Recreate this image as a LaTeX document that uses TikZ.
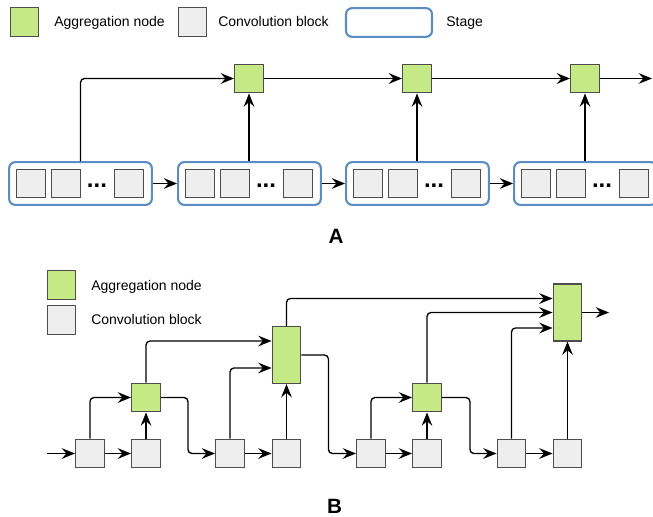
\documentclass[tikz,border=0pt]{standalone}
\usepackage{fontspec}
\setmainfont{Liberation Sans}
\usetikzlibrary{arrows.meta,calc}
\definecolor{aggfill}{HTML}{C5E985}
\definecolor{convfill}{HTML}{EEEEEE}
\definecolor{boxline}{HTML}{4D4D4D}
\definecolor{stageline}{HTML}{5B8DC3}
\begin{document}
\begin{tikzpicture}[x=0.75pt,y=-0.75pt,
  agg/.style={draw=boxline,fill=aggfill,line width=0.9pt,minimum width=21.5pt,minimum height=21.5pt,inner sep=0pt},
  aggtall/.style={agg,minimum height=42.75pt},
  conv/.style={draw=boxline,fill=convfill,line width=0.9pt,minimum width=21.5pt,minimum height=21.5pt,inner sep=0pt},
  stagebox/.style={draw=stageline,line width=1.6pt,rounded corners=4.5pt,minimum width=107pt,minimum height=32pt,inner sep=0pt},
  legtext/.style={font=\fontsize{10.5}{12}\selectfont,anchor=base west,inner sep=0pt},
  lbl/.style={font=\fontsize{15.5}{18}\selectfont\bfseries,inner sep=0pt},
  dotstext/.style={font=\fontsize{18}{20}\selectfont\bfseries,anchor=base,inner sep=0pt},
  conn/.style={line width=1pt,-{Stealth[length=10pt,width=8pt,inset=3.5pt]},rounded corners=3pt}
]
\useasboundingbox (0,0) rectangle (653,517);

% ---------- Legend A ----------
\node[agg] (lg1) at (24.5,22) {};
\node[legtext] (lt1) at (54,27) {Aggregation node};
\node[conv] (lg2) at (192.5,22) {};
\node[legtext] (lt2) at (218,27) {Convolution block};
\node[stagebox,minimum width=64.5pt,minimum height=21.5pt] (lg3) at (389,22.5) {};
\node[legtext] (lt3) at (446,27) {Stage};

% ---------- Part A: stages ----------
\foreach \i/\s in {1/9,2/178,3/346,4/514}{
  \node[stagebox] (s\i) at (\s+71.5,183.5) {};
  \node[conv] (s\i a) at (\s+22,183.5) {};
  \node[conv] (s\i b) at (\s+57,183.5) {};
  \node[conv] (s\i c) at (\s+120,183.5) {};
  \node[dotstext] (s\i d) at (\s+88,187) {...};
}
\node[agg] (g1) at (249,78.5) {};
\node[agg] (g2) at (417,78.5) {};
\node[agg] (g3) at (585,78.5) {};
\coordinate (outA) at (652,78.5);

\draw[conn] (s1.north) |- (g1.west);
\draw[conn] (s2.north -| g1.south) -- (g1.south);
\draw[conn] (s3.north -| g2.south) -- (g2.south);
\draw[conn] (s4.north -| g3.south) -- (g3.south);
\draw[conn] (g1.east) -- (g2.west);
\draw[conn] (g2.east) -- (g3.west);
\draw[conn] (g3.east) -- (outA);
\draw[conn] (s1.east) -- (s2.west);
\draw[conn] (s2.east) -- (s3.west);
\draw[conn] (s3.east) -- (s4.west);

\node[lbl] (labA) at (336,236) {A};

% ---------- Legend B ----------
\node[agg] (lb1) at (61.5,285) {};
\node[legtext] (lbt1) at (91,290) {Aggregation node};
\node[conv] (lb2) at (61.5,320) {};
\node[legtext] (lbt2) at (91,324) {Convolution block};

% ---------- Part B ----------
\node[conv] (c1) at (90,453.5) {};
\node[conv] (c2) at (146,453.5) {};
\node[conv] (c3) at (230,453.5) {};
\node[conv] (c4) at (286.5,453.5) {};
\node[conv] (c5) at (371,453.5) {};
\node[conv] (c6) at (427,453.5) {};
\node[conv] (c7) at (511.5,453.5) {};
\node[conv] (c8) at (567.5,453.5) {};

\node[agg] (a1) at (146,397.5) {};
\node[aggtall] (a2) at (286.5,355) {};
\node[agg] (a3) at (427,397.5) {};
\node[aggtall] (a4) at (567.5,312.5) {};

\coordinate (inB) at (47,453.5);
\coordinate (outB) at (609,312.5);

\draw[conn] (inB) -- (c1.west);
\draw[conn] (c1.east) -- (c2.west);
\draw[conn] (c3.east) -- (c4.west);
\draw[conn] (c5.east) -- (c6.west);
\draw[conn] (c7.east) -- (c8.west);

\draw[conn] (c1.north) |- (a1.west);
\draw[conn] (c2.north) -- (a1.south);
\draw[conn] (a1.east) -- ++(27,0) |- (c3.west);
\draw[conn] (a1.north) |- ($(a2.west)+(0,-14)$);
\draw[conn] (c3.north) |- ($(a2.west)+(0,13)$);
\draw[conn] (c4.north) -- (a2.south);
\draw[conn] (a2.east) -- ++(27,0) |- (c5.west);
\draw[conn] (a2.north) |- ($(a4.west)+(0,-14)$);

\draw[conn] (c5.north) |- (a3.west);
\draw[conn] (c6.north) -- (a3.south);
\draw[conn] (a3.east) -- ++(28,0) |- (c7.west);
\draw[conn] (a3.north) |- (a4.west);
\draw[conn] (c7.north) |- ($(a4.west)+(0,15.5)$);
\draw[conn] (c8.north) -- (a4.south);
\draw[conn] (a4.east) -- (outB);

\node[lbl] (labB) at (334.5,506) {B};
\end{tikzpicture}
\end{document}
